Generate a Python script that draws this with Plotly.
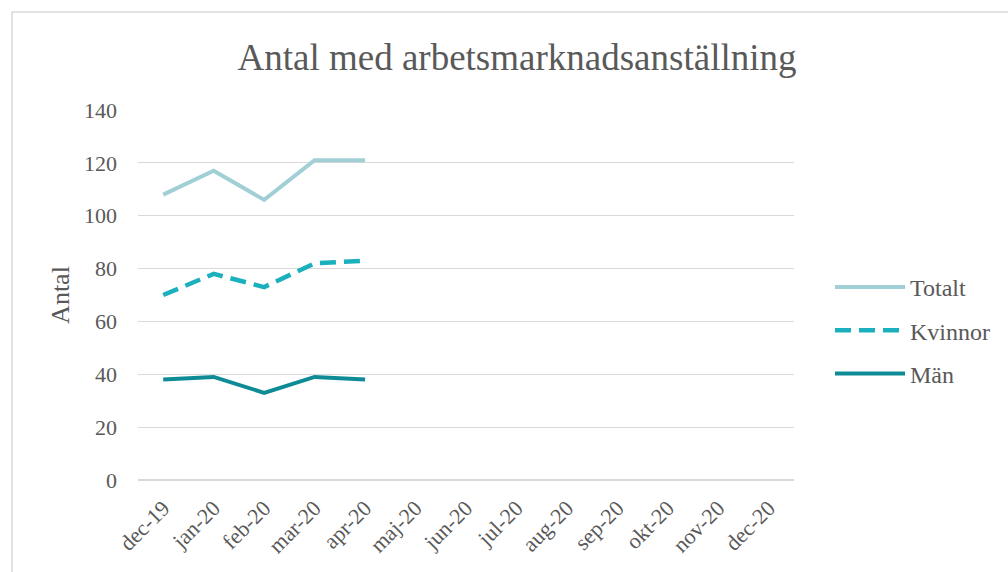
import plotly.graph_objects as go

months = ["dec-19", "jan-20", "feb-20", "mar-20", "apr-20", "maj-20", "jun-20",
          "jul-20", "aug-20", "sep-20", "okt-20", "nov-20", "dec-20"]
observed = months[:5]
totalt = [108, 117, 106, 121, 121]
kvinnor = [70, 78, 73, 82, 83]
man = [38, 39, 33, 39, 38]

GRAY = "#595959"
FONT = "Liberation Serif"

fig = go.Figure()
fig.add_trace(go.Scatter(x=observed, y=totalt, name="Totalt", mode="lines", legendgroup="a",
                         line=dict(color="#A0CFD6", width=4)))
fig.add_trace(go.Scatter(x=observed, y=kvinnor, name="Kvinnor", mode="lines", legendgroup="b",
                         line=dict(color="#1BB0BE", width=4.5, dash="16px,8px")))
fig.add_trace(go.Scatter(x=observed, y=man, name="Män", mode="lines", legendgroup="c",
                         line=dict(color="#0E8B95", width=4)))

L, R, T, B = 138, 794, 110, 480
W, H = R - L, B - T

fig.update_layout(
    width=1008, height=572,
    margin=dict(l=L, r=1008 - R, t=T, b=572 - B),
    paper_bgcolor="white", plot_bgcolor="white",
    font=dict(family=FONT, color=GRAY),
    title=dict(text="Antal med arbetsmarknadsanställning", font=dict(size=37, color=GRAY, family=FONT),
               x=517 / 1008, xanchor="center", y=1 - 57 / 572, yanchor="middle"),
    xaxis=dict(type="category", categoryorder="array", categoryarray=months,
               range=[-0.5, 12.5], tickangle=-45, tickfont=dict(size=22, color=GRAY),
               ticklabelstandoff=10,
               showgrid=False, showline=False, ticks="", zeroline=False, fixedrange=True),
    yaxis=dict(range=[0, 140], dtick=20, tickfont=dict(size=22, color=GRAY),
               gridcolor="#D9D9D9", gridwidth=1, zeroline=True, zerolinecolor="#D9D9D9",
               showline=False, ticks="", ticklabelstandoff=20,
               title=dict(text="Antal", font=dict(size=26, color=GRAY), standoff=6)),
    legend=dict(x=(830 - L) / W, xanchor="left", y=(B - 265) / H, yanchor="top",
                font=dict(size=24, color=GRAY, family=FONT), itemwidth=70,
                tracegroupgap=9, bgcolor="rgba(0,0,0,0)"),
    shapes=[dict(type="rect", xref="paper", yref="paper",
                 x0=(12 - L) / W, x1=(1012 - L) / W, y0=(B - 580) / H, y1=(B - 12) / H,
                 line=dict(color="#D9D9D9", width=1.5), fillcolor="rgba(0,0,0,0)", layer="below")],
)

fig.write_html("out.html", config={"displayModeBar": False},
               post_script="document.body.style.margin='0';document.body.style.overflow='hidden';")
